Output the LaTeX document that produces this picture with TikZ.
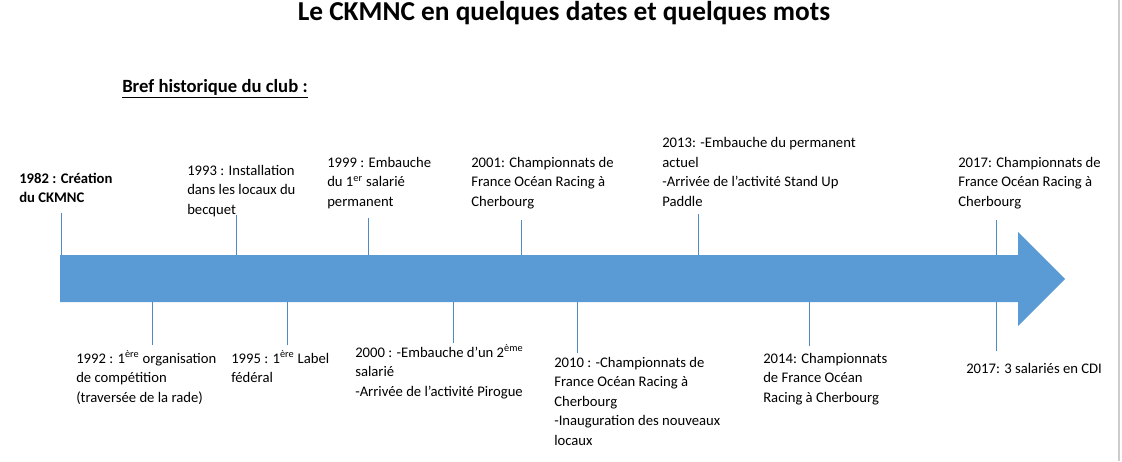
\documentclass[tikz,border=0pt]{standalone}
\usepackage{fontspec}
\setmainfont{Carlito}
\usepackage{xcolor}
\usepackage{tikz}
\definecolor{arrowblue}{HTML}{5B9BD5}
\definecolor{tickblue}{HTML}{4F8AC2}
\newcommand{\txtsize}{\fontsize{11}{14.6}\selectfont}
\newcommand{\ticklen}{0.75pt}

\begin{document}
\begin{tikzpicture}[x=0.75pt,y=-0.75pt]
            %\draw[help lines] (0,0) grid (1122,461);
            \useasboundingbox (0,0) rectangle (1122,461);
            \tikzset{lbl/.style = {anchor=base west, align=left, inner sep=0pt, font=\txtsize}}
            \tikzset{tick/.style = {draw=tickblue, line width=\ticklen}}
            \draw[black!20, line width=1.2pt] (1119,0) -- (1119,461);
            \node[anchor=base, inner sep=0pt, font=\fontsize{20.5}{24}\selectfont\bfseries] (title) at (564,20) {Le CKMNC en quelques dates et quelques mots};
            \node[lbl, font=\fontsize{14}{17}\selectfont\bfseries] (sub) at (122,92) {\underline{Bref historique du club :}};
            % above the arrow (base = last line)
            \node[lbl, font=\txtsize\bfseries] (l1982) at (19,202.5) {1982 : Création\\du CKMNC};
            \node[lbl] (l1993) at (187,214) {1993 : Installation\\dans les locaux du\\becquet};
            \node[lbl] (l1999) at (327,206) {1999 : Embauche\\du 1\textsuperscript{er} salarié\\permanent};
            \node[lbl] (l2001) at (471,206) {2001: Championnats de\\France Océan Racing à\\Cherbourg};
            \node[lbl] (l2013) at (662,206) {2013: -Embauche du permanent\\actuel\\-Arrivée de l’activité Stand Up\\Paddle};
            \node[lbl] (l2017a) at (958,206) {2017: Championnats de\\France Océan Racing à\\Cherbourg};
            % below the arrow
            \node[lbl] (l1992) at (76,402) {1992 : 1\textsuperscript{ère} organisation\\de compétition\\(traversée de la rade)};
            \node[lbl] (l1995) at (231,382.5) {1995 : 1\textsuperscript{ère} Label\\fédéral};
            \node[lbl] (l2000) at (355,396) {2000 : -Embauche d’un 2\textsuperscript{ème}\\salarié\\-Arrivée de l’activité Pirogue};
            \node[lbl] (l2010) at (554,445) {2010 : -Championnats de\\France Océan Racing à\\Cherbourg\\-Inauguration des nouveaux\\locaux};
            \node[lbl] (l2014) at (763,402) {2014: Championnats\\de France Océan\\Racing à Cherbourg};
            \node[lbl] (l2017b) at (966,373) {2017: 3 salariés en CDI};
            % ticks
            \coordinate (top) at (0,255);
            \coordinate (bot) at (0,302);
            \foreach \n/\x/\y in {1982/61/213, 1993/236/215, 1999/368/218, 2001/521/220, 2013/698/214, 2017a/996/220}
                {\coordinate (k\n) at (\x,\y);
                 \draw[tick] (k\n) -- (k\n |- top);}
            \foreach \n/\x/\y in {1992/152/345, 1995/287/345, 2000/453/343, 2010/577/353, 2014/809/346, 2017b/996/351}
                {\coordinate (k\n) at (\x,\y);
                 \draw[tick] (k\n) -- (k\n |- bot);}
            % arrow
            \fill[arrowblue] (60,255) -- (1018,255) -- (1018,232) -- (1065,279)
                -- (1018,326) -- (1018,302) -- (60,302) -- cycle;
        \end{tikzpicture}
\end{document}
